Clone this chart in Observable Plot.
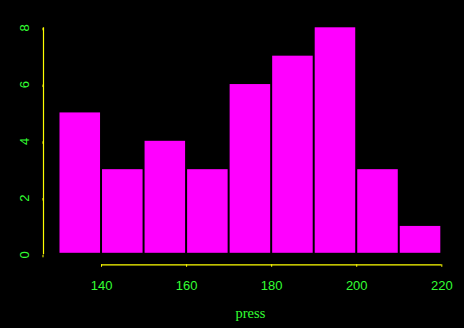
<!DOCTYPE html>
<html>
<head>
<meta charset="utf-8">
<script src="https://cdn.jsdelivr.net/npm/d3@7"></script>
<script src="https://cdn.jsdelivr.net/npm/@observablehq/plot@0.6"></script>
<style>
  html, body { margin: 0; padding: 0; background: #000; }
  #chart svg { display: block; }
</style>
</head>
<body>
<div id="chart"></div>
<script>
const binStarts = [130, 140, 150, 160, 170, 180, 190, 200, 210];
const binEnds   = [140, 150, 160, 170, 180, 190, 200, 210, 220];
const counts    = [5, 3, 4, 3, 6, 7, 8, 3, 1];
const xTicks = [140, 160, 180, 200, 220];
const yTicks = [0, 2, 4, 6, 8];
const xLabel = "press";

const bins = binStarts.map((s, i) => ({x1: s, x2: binEnds[i], y: counts[i]}));

const green = "#33ff33", yellow = "#ffff00", magenta = "#ff00ff";

const plot = Plot.plot({
  width: 464,
  height: 328,
  marginLeft: 58.5,
  marginRight: 22.7,
  marginTop: 27.3,
  marginBottom: 73.7,
  style: {background: "#000", fontFamily: "Liberation Sans, Arial, sans-serif", fontSize: "13px", overflow: "visible"},
  x: {domain: [130, 220]},
  y: {domain: [0, 8]},
  marks: [
    Plot.rectY(bins, {x1: "x1", x2: "x2", y: "y", fill: magenta, insetLeft: 1, insetRight: 1, insetBottom: 1.5}),
    Plot.ruleX([130], {y1: 0, y2: 8, dx: -15.5, stroke: yellow, strokeWidth: 1.2}),
    Plot.axisY({ticks: yTicks, tickFormat: d3.format("d"), dx: -15.5, tickSize: 2.5, tickPadding: 16, stroke: yellow, color: green, rotate: -90, textAnchor: "middle", fontSize: 13, label: null}),
    Plot.ruleY([0], {x1: 140, x2: 220, dy: 10, stroke: yellow, strokeWidth: 1.2}),
    Plot.axisX({ticks: xTicks, tickFormat: d3.format("d"), dy: 10, tickSize: 2.5, tickPadding: 13.5, stroke: yellow, color: green, fontSize: 13, label: null}),
    Plot.text([xLabel], {frameAnchor: "bottom", dy: 63, text: d => d, fill: green, fontFamily: "Liberation Serif, Times New Roman, serif", fontSize: 14.5})
  ]
});
document.getElementById("chart").appendChild(plot);
</script>
</body>
</html>
